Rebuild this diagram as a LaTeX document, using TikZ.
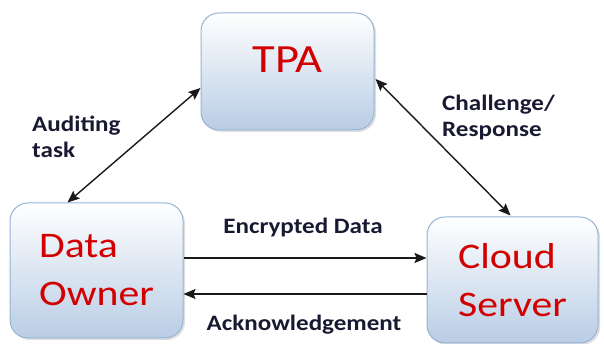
\documentclass[tikz,border=0pt]{standalone}
\usepackage{fontspec}
\newfontfamily\boxfont[FakeStretch=1.16]{Carlito}
\newfontfamily\lblfont[FakeStretch=1.14]{Carlito}
\usetikzlibrary{arrows.meta,shadows,calc}
\definecolor{boxborder}{RGB}{149,179,215}
\definecolor{boxbottom}{RGB}{185,205,229}
\definecolor{boxred}{RGB}{210,0,0}
\definecolor{lbl}{RGB}{25,25,50}
\tikzset{
  entity/.style={draw=boxborder, line width=1pt, rounded corners=18pt,
    top color=white, bottom color=boxbottom, shading angle=0,
    drop shadow={opacity=0.25, shadow xshift=2pt, shadow yshift=-2pt},
    text=boxred, font=\boxfont\fontsize{36}{48}\selectfont, align=left, inner sep=0pt},
  boxtext/.style={text=boxred, font=\boxfont\fontsize{40}{48}\selectfont, inner sep=0pt},
  lab/.style={text=lbl, font=\lblfont\bfseries\fontsize{22}{26}\selectfont, inner sep=0pt, align=left},
  conn/.style={line width=1.4pt, draw=black!90},
  tip/.tip={Stealth[length=12pt,width=10pt,inset=2pt]}
}
\begin{document}
\begin{tikzpicture}[x=1pt,y=1pt]
\useasboundingbox (0,0) rectangle (604,344);
\node[entity, minimum width=173pt, minimum height=117pt] (tpa) at (287.5,272.5) {};
\node[boxtext] (tpatext) at (287.5,284.5) {TPA};
\node[entity, minimum width=173pt, minimum height=135pt] (do) at (96.5,73.5) {Data\\Owner};
\node[entity, minimum width=171pt, minimum height=126pt] (cs) at (512.5,64) {Cloud\\Server};

\coordinate (doTop) at ($(do.north west)+(58,0)$);
\coordinate (tpaL) at ($(tpa.west)+(0,-16.5)$);
\coordinate (tpaR) at ($(tpa.east)+(1,-7.5)$);
\coordinate (csTop) at ($(cs.north)+(-2,1)$);
\coordinate (doR1) at ($(do.east)+(0,12.5)$);
\coordinate (doR2) at ($(do.east)+(0,-23.5)$);
\coordinate (csL1) at (cs.west |- doR1);
\coordinate (csL2) at (cs.west |- doR2);

\draw[conn, {tip}-{tip}] (doTop) -- (tpaL);
\draw[conn, {tip}-{tip}] (tpaR) -- (csTop);
\draw[conn, -{tip}] (doR1) -- (csL1);
\draw[conn, -{tip}] (csL2) -- (doR2);

\node[lab, anchor=base west] (aud) at (32,186) {Auditing\\task};
\node[lab, anchor=base west] (chal) at (442,207) {Challenge/\\Response};
\node[lab] (enc) at (303,116) {Encrypted Data};
\node[lab] (ack) at (304,19) {Acknowledgement};
\end{tikzpicture}
\end{document}
